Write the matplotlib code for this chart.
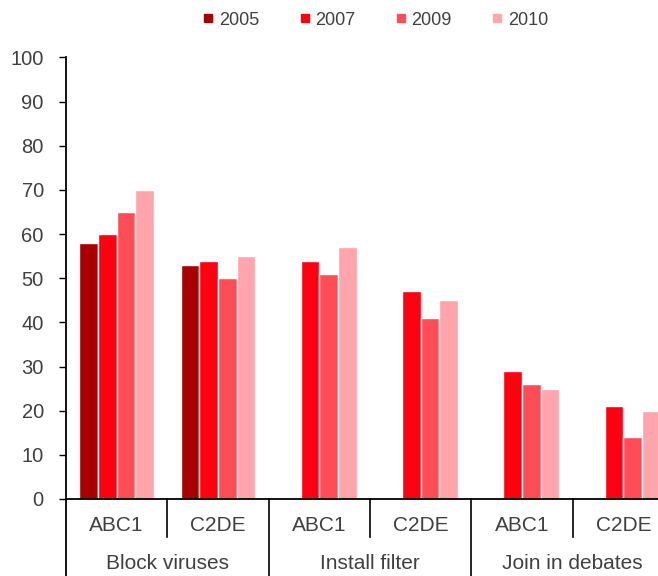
import numpy as np
import matplotlib
matplotlib.use("Agg")
from matplotlib import pyplot as plt
from matplotlib.lines import Line2D

plt.rcParams['font.family'] = ['Liberation Sans', 'DejaVu Sans']

# data
groups = ["Block viruses", "Install filter", "Join in debates"]
segments = ["ABC1", "C2DE"]
years = ["2005", "2007", "2009", "2010"]
v2005 = [58, 53, None, None, None, None]
v2007 = [60, 54, 54, 47, 29, 21]
v2009 = [65, 50, 51, 41, 26, 14]
v2010 = [70, 55, 57, 45, 25, 20]
colors = ["#A80000", "#FF0010", "#FF4D57", "#FFA5AB"]

series = [v2005, v2007, v2009, v2010]
n_cat = len(groups) * len(segments)
x = np.arange(n_cat)

fig = plt.figure(figsize=(6.58, 5.76), dpi=100)
ax = fig.add_axes([0.1003, 0.1337, 0.924, 0.7665])

bw = 0.185
for i, (vals, col) in enumerate(zip(series, colors)):
    xs = [xx + (i - 1.5) * bw for xx, v in zip(x, vals) if v is not None]
    hs = [v for v in vals if v is not None]
    ax.bar(xs, hs, width=bw, color=col, edgecolor="white", linewidth=1.0, zorder=2)

ax.set_xlim(-0.5, n_cat - 0.5)
ax.set_ylim(0, 100)
ax.set_yticks(range(0, 101, 10))
ax.tick_params(axis="y", length=5, width=1, pad=11, labelsize=14.5, labelcolor="#404040")
ax.set_xticks([])
for s in ["top", "right"]:
    ax.spines[s].set_visible(False)
ax.spines["left"].set_linewidth(1.3)
ax.spines["bottom"].set_linewidth(1.3)

# multi level category axis
trans = ax.get_xaxis_transform()
ax.plot([-0.5, -0.5], [0, -0.2], transform=trans, color="black", lw=1.3, clip_on=False)
for k in range(len(groups)):
    ax.plot([2 * k + 0.5] * 2, [0, -0.086], transform=trans, color="black", lw=1.2, clip_on=False)
    ax.plot([2 * k + 1.5] * 2, [0, -0.2], transform=trans, color="black", lw=1.2, clip_on=False)
    for j, seg in enumerate(segments):
        ax.text(2 * k + j, -0.059, seg, transform=trans, ha="center", va="center",
                fontsize=15, color="#404040")
    ax.text(2 * k + 0.5, -0.168, groups[k], transform=trans, ha="center", va="bottom",
            fontsize=15, color="#404040")

handles = [Line2D([], [], marker="s", linestyle="none", markersize=6,
                  markerfacecolor=c, markeredgecolor=c) for c in colors]
fig.legend(handles, years, loc="center", bbox_to_anchor=(0.568, 0.965), ncol=4,
           frameon=False, fontsize=13, handletextpad=0.1, columnspacing=2.0,
           handlelength=1.0, labelcolor="#404040")

fig.savefig("out.png", dpi=100, facecolor="white")
